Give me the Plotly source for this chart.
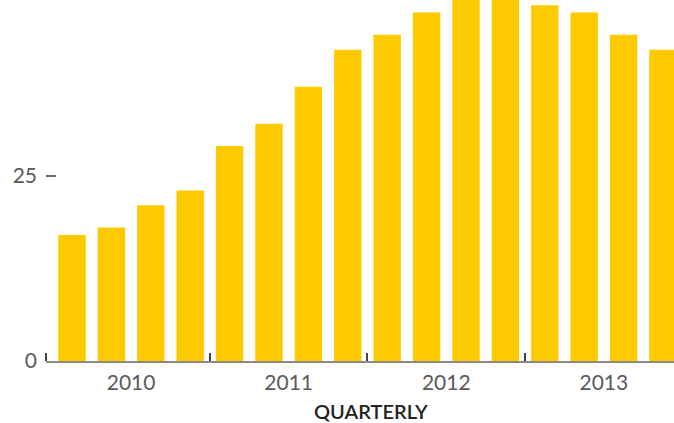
import plotly.graph_objects as go

# Quarterly values, 2010 Q1 through 2013 Q4
quarters = list(range(16))
values = [17, 18, 21, 23, 29, 32, 37, 42, 44, 47, 50, 50, 48, 47, 44, 42]

year_labels = ["2010", "2011", "2012", "2013"]
year_centers = [1.5, 5.5, 9.5, 13.5]
year_bounds = [-0.66, 3.5, 7.5, 11.5]

y_ticks = [0, 25]
bar_color = "#FDCA00"

fig = go.Figure(
    go.Bar(
        x=quarters,
        y=values,
        marker=dict(color=bar_color, line=dict(width=0)),
        width=0.695,
    )
)

fig.update_layout(
    width=674,
    height=423,
    margin=dict(l=46, r=0, t=0, b=62),
    plot_bgcolor="white",
    paper_bgcolor="white",
    showlegend=False,
    font=dict(family="Lato", color="#5a5a5a", size=21),
)

fig.update_xaxes(
    range=[-0.66, 15.28],
    tickmode="array",
    tickvals=year_centers,
    ticktext=year_labels,
    ticks="",
    showgrid=False,
    zeroline=False,
    showline=True,
    linecolor="#8a8a8a",
    linewidth=1.5,
    ticklabelstandoff=2,
    minor=dict(
        tickmode="array",
        tickvals=year_bounds,
        ticks="inside",
        ticklen=8,
        tickwidth=1.5,
        tickcolor="#444444",
        showgrid=False,
    ),
)

fig.update_yaxes(
    range=[0, 48.7],
    tickmode="array",
    tickvals=y_ticks,
    ticktext=[str(v) for v in y_ticks],
    ticks="inside",
    ticklen=10,
    tickwidth=1.5,
    tickcolor="#6a6a6a",
    showgrid=False,
    zeroline=False,
    showline=False,
    ticklabelstandoff=8,
)

fig.add_annotation(
    text="QUARTERLY",
    xref="paper",
    yref="paper",
    x=0.5175,
    y=0,
    yshift=-50,
    xanchor="center",
    yanchor="middle",
    showarrow=False,
    font=dict(family="Lato", size=20, color="#222222", weight=600),
)

fig.write_html("out.html")
